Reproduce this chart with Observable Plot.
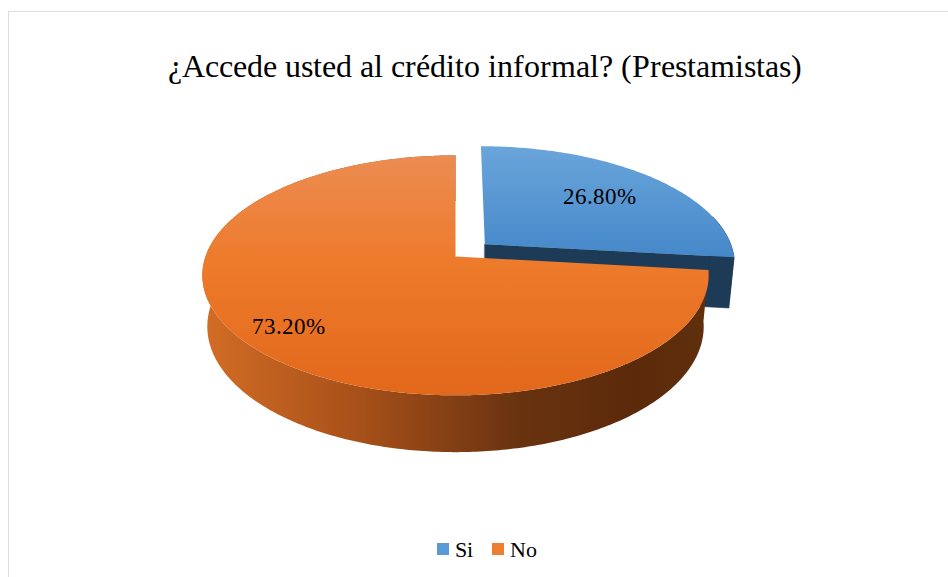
<!DOCTYPE html>
<html>
<head>
<meta charset="utf-8">
<script src="https://cdn.jsdelivr.net/npm/d3@7"></script>
<script src="https://cdn.jsdelivr.net/npm/@observablehq/plot@0.6"></script>
<style>
  @font-face { font-family: 'ChartSerif'; src: local('Liberation Serif'), local('LiberationSerif'), local('Times New Roman'); }
  body { margin: 0; background: #fff; }
  .serif { font-family: 'ChartSerif', 'Liberation Serif', serif; }
  #frame { position: relative; width: 948px; height: 577px; color: #000; }
  #border { position: absolute; left: 8px; top: 11px; width: 940px; height: 566px;
            border-left: 1px solid #d9dde3; border-top: 1px solid #d9dde3; pointer-events: none; }
  #title { height: 120px; box-sizing: border-box; padding-top: 50px; padding-left: 22px;
           text-align: center; font-size: 32px; line-height: 33px; white-space: nowrap; }
  #chart { height: 400px; }
  #chart svg { display: block; }
  #legend { height: 57px; box-sizing: border-box; padding-top: 19px; padding-left: 26px;
            display: flex; justify-content: center; align-items: baseline;
            font-size: 22px; line-height: 22px; }
  .item { display: flex; align-items: center; }
  .item + .item { margin-left: 19px; }
  .swatch { width: 12px; height: 12px; margin-right: 6px; position: relative; top: -1px; }
</style>
</head>
<body>
<div id="frame" class="serif">
  <div id="border"></div>
  <div id="title" class="serif"></div>
  <div id="chart"></div>
  <div id="legend" class="serif"></div>
</div>
<script>
// Survey answers: share of respondents who use informal credit (lenders)
const titleText = "¿Accede usted al crédito informal? (Prestamistas)";
const categories = ["Si", "No"];
const values = [26.8, 73.2];
const colors = ["#5B9BD5", "#ED7D31"];

// 3-D pie view parameters (unit radius)
const tilt = 27.9 * Math.PI / 180;   // elevation of the viewer
const viewDist = 5.62;               // perspective distance
const thickness = 0.234;             // pie height
const explodeBy = {Si: 0.16, No: 0}; // radial offset of pulled-out slices
const labelRadius = {Si: 0.68, No: 0.82};
const frontWallStart = Math.PI * 0.42; // back wall of the pulled-out slice stays hidden

// screen placement of the pie
const S = 250, cx = 455, cy = 256, svgTop = 120, svgW = 948, svgH = 400;
const serifStack = "ChartSerif, 'Liberation Serif', serif";

const sinT = Math.sin(tilt), cosT = Math.cos(tilt);
function project(X, Y, Z) {
  const v = Y * sinT + Z * cosT;
  const depth = Y * cosT - Z * sinT;
  const w = 1 + depth / viewDist;
  return {x: X / w, y: v / w};
}

const rows = categories.map((c, i) => ({category: c, value: values[i], color: colors[i]}));
const arcs = d3.pie().sort(null).value(d => d.value).startAngle(0).endAngle(2 * Math.PI)(rows);

function arcPoints(a0, a1, ox, oy, z) {
  const n = Math.max(2, Math.ceil(Math.abs(a1 - a0) / (Math.PI / 240)));
  return d3.range(n + 1).map(k => {
    const t = a0 + (a1 - a0) * k / n;
    return project(ox + Math.sin(t), oy + Math.cos(t), z);
  });
}

const faces = [];
const labels = [];
for (const a of arcs) {
  const cat = a.data.category;
  const mid = (a.startAngle + a.endAngle) / 2;
  const e = explodeBy[cat];
  const ox = e * Math.sin(mid), oy = e * Math.cos(mid);
  const h = -thickness;
  const isSi = cat === "Si";
  const center = project(ox, oy, 0), centerLow = project(ox, oy, h);
  const rimTop = arcPoints(a.startAngle, a.endAngle, ox, oy, 0);
  const wallStart = isSi ? Math.max(a.startAngle, frontWallStart) : a.startAngle;
  const wallTop = arcPoints(wallStart, a.endAngle, ox, oy, 0);
  const wallLow = arcPoints(wallStart, a.endAngle, ox, oy, h);
  const sideFill = isSi ? "#1d3a56" : "url(#sideNo)";
  const sideStroke = isSi ? "#1d3a56" : "none";
  // radial cut face at the end of the pulled-out slice
  if (isSi) {
    const ang = a.endAngle;
    faces.push({order: 0, fill: sideFill, stroke: sideStroke, pts: [center,
      project(ox + Math.sin(ang), oy + Math.cos(ang), 0),
      project(ox + Math.sin(ang), oy + Math.cos(ang), h), centerLow]});
  }
  // outer wall
  faces.push({order: isSi ? 0 : 2, pts: wallTop.concat(wallLow.slice().reverse()), fill: sideFill, stroke: sideStroke});
  // top face
  faces.push({order: isSi ? 1 : 3, pts: [center, ...rimTop], fill: isSi ? "url(#topSi)" : "url(#topNo)", stroke: "none"});
  const r = labelRadius[cat];
  const lp = project(ox + r * Math.sin(mid), oy + r * Math.cos(mid), 0);
  labels.push({text: d3.format(".2f")(a.data.value) + "%", x: lp.x, y: lp.y});
}

const marks = faces
  .sort((a, b) => a.order - b.order)
  .map(f => Plot.line(f.pts, {x: "x", y: "y", fill: f.fill, stroke: f.stroke,
                               strokeWidth: 0.6, curve: "linear-closed"}));
marks.push(Plot.text(labels, {x: "x", y: "y", text: "text", fontSize: 23,
                              fontFamily: serifStack, fill: "#000"}));

const chart = Plot.plot({
  width: svgW, height: svgH,
  margin: 0,
  style: {fontFamily: serifStack},
  x: {domain: [(0 - cx) / S, (svgW - cx) / S], axis: null},
  y: {domain: [(cy - svgTop - svgH) / S, (cy - svgTop) / S], axis: null},
  marks
});

// shading gradients for the 3-D faces
const defs = d3.select(chart).insert("defs", ":first-child");
function grad(id, x2, y2, stops) {
  const g = defs.append("linearGradient").attr("id", id)
    .attr("x1", 0).attr("y1", 0).attr("x2", x2).attr("y2", y2);
  for (const [o, c] of stops) g.append("stop").attr("offset", o).attr("stop-color", c);
}
grad("topSi", 0, 1, [[0, "#6aa5db"], [1, "#4588c9"]]);
grad("topNo", 0, 1, [[0, "#ec8c52"], [0.45, "#ee7a2b"], [1, "#e2681b"]]);
grad("sideNo", 1, 0, [[0, "#d26d25"], [0.3, "#a9511a"], [0.62, "#6a3310"], [0.85, "#5b2a0a"], [1, "#60300d"]]);

document.getElementById("chart").appendChild(chart);
document.getElementById("title").textContent = titleText;

const legend = d3.select("#legend");
rows.forEach(d => {
  const item = legend.append("div").attr("class", "item");
  item.append("div").attr("class", "swatch").style("background", d.color);
  item.append("span").text(d.category);
});
</script>
</body>
</html>
